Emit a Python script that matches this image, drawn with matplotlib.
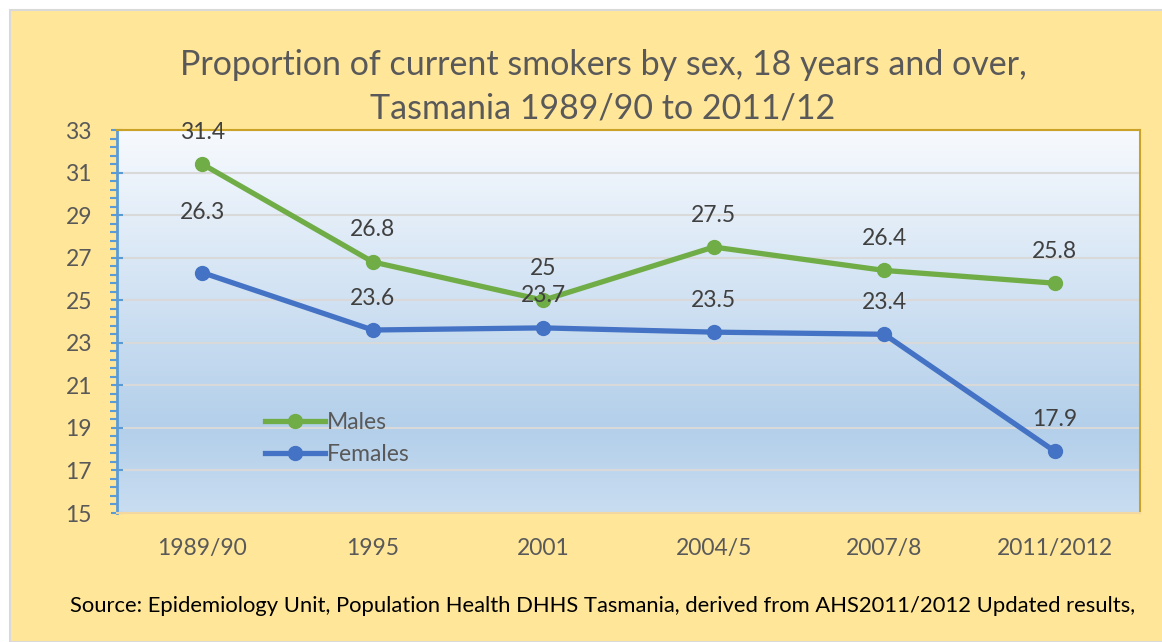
import matplotlib
matplotlib.use("Agg")
import matplotlib.pyplot as plt
import numpy as np
from matplotlib.colors import LinearSegmentedColormap
from matplotlib.patches import Rectangle
from matplotlib.lines import Line2D

categories = ["1989/90", "1995", "2001", "2004/5", "2007/8", "2011/2012"]
males = [31.4, 26.8, 25.0, 27.5, 26.4, 25.8]
females = [26.3, 23.6, 23.7, 23.5, 23.4, 17.9]
male_labels = ["31.4", "26.8", "25", "27.5", "26.4", "25.8"]
female_labels = ["26.3", "23.6", "23.7", "23.5", "23.4", "17.9"]
title_lines = ["Proportion of current smokers by sex, 18 years and over,",
               "Tasmania 1989/90 to 2011/12"]
source = "Source: Epidemiology Unit, Population Health DHHS Tasmania, derived from AHS2011/2012 Updated results,"

plt.rcParams['font.family'] = ['Lato', 'DejaVu Sans']

W, H = 1162, 642
fig = plt.figure(figsize=(W / 100, H / 100), dpi=100)
fig.patch.set_facecolor("white")
# yellow panel with grey outline
fig.patches.append(Rectangle((10 / W, 0), 1, 1 - 10 / H, transform=fig.transFigure,
                             facecolor="#FFE699", edgecolor="#D9D9D9", linewidth=1.5, zorder=-10))

ax = fig.add_axes([117 / W, 1 - 513 / H, (1140 - 117) / W, (513 - 130) / H])
ax.set_facecolor("none")
ax.set_zorder(1)

# gradient background
cmap = LinearSegmentedColormap.from_list("g", [(0, "#C9DDF1"), (0.22, "#B3CFEA"), (1.0, "#F7FAFE")])
grad = np.linspace(0, 1, 256).reshape(-1, 1)
ax.imshow(grad, aspect="auto", cmap=cmap, extent=[0, 1, 0, 1], origin="lower",
          transform=ax.transAxes, zorder=0)

x = np.arange(len(categories))
ax.set_xlim(-0.5, len(categories) - 0.5)
ax.set_ylim(15, 33)
ax.set_yticks(np.arange(15, 34, 2))
ax.set_yticks(np.arange(15, 33.01, 0.4), minor=True)
ax.set_xticks(x)
ax.set_xticklabels(categories)
ax.grid(axis="y", which="major", color="#D9D9D9", linewidth=1.5, zorder=1)
ax.set_axisbelow(True)

green = "#70AD47"
blue = "#4472C4"
ax.plot(x, males, color=green, linewidth=3.8, marker="o", markersize=10, zorder=3,
        solid_capstyle="round")
ax.plot(x, females, color=blue, linewidth=3.8, marker="o", markersize=10, zorder=3,
        solid_capstyle="round")

lab_col = "#404040"
fs = 16.5
for i, (v, s) in enumerate(zip(males, male_labels)):
    ax.annotate(s, (x[i], v), xytext=(0, 23), textcoords="offset points",
                ha="center", va="center", fontsize=fs, color=lab_col, zorder=4)
for i, (v, s) in enumerate(zip(females, female_labels)):
    off = 43 if i == 0 else 23
    ax.annotate(s, (x[i], v), xytext=(0, off), textcoords="offset points",
                ha="center", va="center", fontsize=fs, color=lab_col, zorder=4)

for sp in ["top", "right"]:
    ax.spines[sp].set_color("#C9A227")
    ax.spines[sp].set_linewidth(1.5)
ax.spines["left"].set_color("#5B9BD5")
ax.spines["left"].set_linewidth(2)
ax.spines["bottom"].set_color("#F2D8A0")
ax.spines["bottom"].set_linewidth(1.5)

ax.tick_params(axis="y", which="major", direction="inout", length=8, width=1.5,
               color="#5B9BD5", labelsize=fs, labelcolor="#595959", pad=14)
ax.tick_params(axis="y", which="minor", direction="out", length=5, width=1.5, color="#5B9BD5")
ax.tick_params(axis="x", length=0, labelsize=fs, labelcolor="#595959", pad=18)

handles = [Line2D([], [], color=green, lw=3.8, marker="o", markersize=10),
           Line2D([], [], color=blue, lw=3.8, marker="o", markersize=10)]
leg = ax.legend(handles, ["Males", "Females"], loc="upper left",
                bbox_to_anchor=(148 / 1023, (513 - 412) / 383), frameon=False,
                fontsize=fs, handlelength=2.6, handletextpad=0.1, labelspacing=0.5,
                borderaxespad=0, borderpad=0)
for t in leg.get_texts():
    t.set_color("#595959")

fig.text(603 / W, 1 - 65 / H, title_lines[0], ha="center", va="center", fontsize=24.5,
         color="#595959")
fig.text(603 / W, 1 - 108 / H, title_lines[1], ha="center", va="center", fontsize=24.5,
         color="#595959")
fig.text(603 / W, 1 - 606 / H, source, ha="center", va="center", fontsize=15.8, color="black")

fig.savefig("out.png", dpi=100, facecolor=fig.get_facecolor())
